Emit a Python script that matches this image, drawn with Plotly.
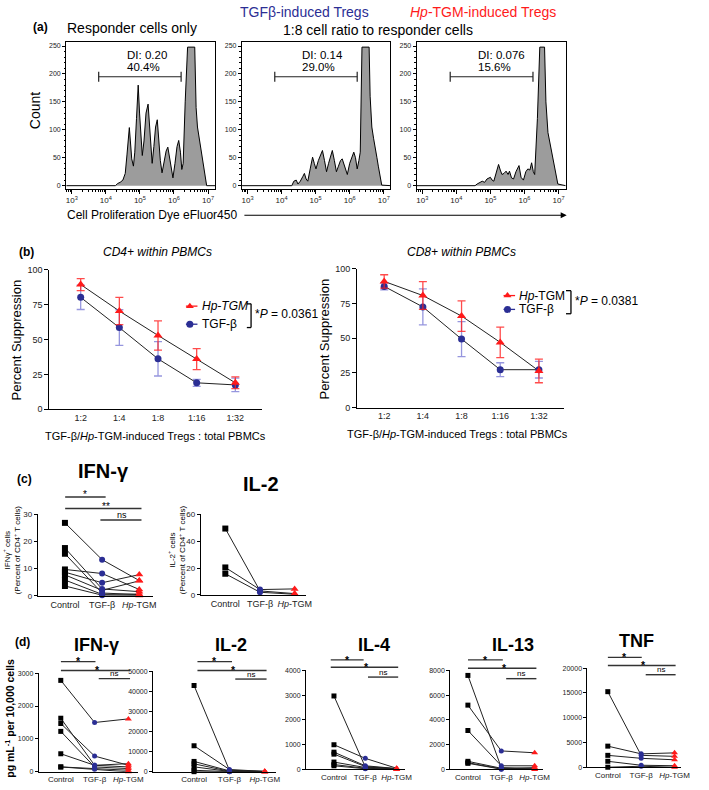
import plotly.graph_objects as go

W, H = 709, 790
FONT = "Liberation Sans, Arial, Helvetica, sans-serif"
BLUE = "#2B2E94"
RED = "#FF1A1A"
FILL = "#9C9C9C"

# ---------------- DATA ----------------
# (a) proliferation histograms: log10(eFluor450 intensity) vs event count
resp_log = [2.84, 4.28, 4.35, 4.42, 4.50, 4.57, 4.62, 4.66, 4.69, 4.72, 4.76, 4.81, 4.85, 4.90,
            4.95, 4.99, 5.03, 5.07, 5.12, 5.18, 5.24, 5.28, 5.32, 5.36, 5.41, 5.46, 5.51, 5.55,
            5.60, 5.65, 5.71, 5.77, 5.82, 5.87, 5.92, 5.97, 6.03, 6.09, 6.14, 6.19, 6.23, 6.27,
            6.33, 6.40, 6.61, 6.65, 6.69, 6.74, 6.79, 6.84, 6.88, 6.93, 6.96, 7.21]
resp_count = [0, 0, 4, 6, 10, 22, 55, 90, 104, 80, 48, 35, 60, 120,
              180, 130, 80, 54, 80, 130, 146, 110, 65, 40, 70, 105, 118, 80,
              45, 23, 40, 62, 69, 50, 25, 14, 40, 70, 81, 60, 29, 40,
              150, 248, 248, 140, 105, 85, 60, 40, 25, 8, 0, 0]
tgfb_log = [2.84, 4.30, 4.36, 4.43, 4.48, 4.55, 4.62, 4.67, 4.72, 4.77, 4.84, 4.91, 4.96, 5.01,
            5.08, 5.14, 5.20, 5.26, 5.32, 5.38, 5.44, 5.49, 5.55, 5.61, 5.67, 5.73, 5.78, 5.84,
            5.93, 6.00, 6.06, 6.12, 6.17, 6.22, 6.27, 6.31, 6.36, 6.57, 6.60, 6.65, 6.70, 6.75,
            6.80, 6.84, 6.89, 6.94, 7.21]
tgfb_count = [0, 0, 8, 10, 3, 8, 16, 22, 12, 8, 30, 51, 40, 30,
              45, 55, 63, 45, 25, 40, 55, 63, 45, 25, 35, 45, 48, 35,
              20, 40, 50, 60, 50, 30, 45, 60, 248, 248, 160, 105, 85, 70,
              50, 35, 15, 1, 0]
hptgm_log = [2.84, 4.55, 4.61, 4.68, 4.76, 4.83, 4.90, 5.00, 5.05, 5.10, 5.17, 5.24, 5.29, 5.34,
             5.40, 5.46, 5.52, 5.56, 5.62, 5.68, 5.75, 5.80, 5.84, 5.90, 5.97, 6.04, 6.10, 6.16,
             6.21, 6.26, 6.30, 6.38, 6.45, 6.59, 6.63, 6.69, 6.75, 6.83, 6.90, 6.98, 7.21]
hptgm_count = [0, 0, 3, 5, 8, 6, 12, 15, 10, 8, 25, 38, 28, 20,
               22, 26, 20, 26, 14, 12, 25, 30, 36, 15, 10, 25, 30, 28,
               41, 25, 20, 120, 248, 248, 150, 95, 75, 50, 25, 3, 0]
gate_resp = [3.79, 6.21]
gate_tgfb = [3.80, 6.22]
gate_hptgm = [3.82, 6.25]
gate_level = 195
di_labels = ["DI: 0.20", "DI: 0.14", "DI: 0.076"]
pct_labels = ["40.4%", "29.0%", "15.6%"]
hist_decades = [3, 4, 5, 6, 7]
hist_yticks = [0, 50, 100, 150, 200, 250]

# (b) percent suppression
ratios = ["1:2", "1:4", "1:8", "1:16", "1:32"]
cd4_hp = [89.5, 70.5, 53.0, 36.0, 19.0]
cd4_hp_err = [4.3, 9.8, 10.5, 7.5, 4.2]
cd4_tgf = [80.3, 58.6, 36.2, 19.0, 17.5]
cd4_tgf_err = [8.7, 12.8, 12.3, 2.5, 4.8]
cd8_hp = [91.0, 80.8, 66.0, 47.0, 26.4]
cd8_hp_err = [4.8, 10.0, 11.0, 11.0, 8.5]
cd8_tgf = [87.4, 72.6, 49.4, 27.3, 27.3]
cd8_tgf_err = [2.5, 13.0, 12.6, 5.0, 6.0]

# (c) percent of CD4+ T cells
groups = ["Control", "TGF-β", "<i>Hp</i>-TGM"]
c_ifng_control = [26.9, 17.6, 15.5, 9.7, 8.7, 7.7, 5.8, 3.6]
c_ifng_tgfb = [13.3, 2.5, 1.0, 8.2, 4.8, 2.0, 0.5, 0.2]
c_ifng_hptgm = [5.6, 1.5, 0.4, 2.3, 7.8, 5.5, 0.6, 0.1]
c_il2_control = [49.5, 20.5, 15.8]
c_il2_tgfb = [3.0, 4.0, 2.0]
c_il2_hptgm = [1.0, 4.5, 0.5]

# (d) pg/mL per 10,000 cells
d_ifng_control = [2780, 1630, 1470, 1230, 550, 150, 150]
d_ifng_tgfb = [1500, 200, 480, 150, 200, 100, 80]
d_ifng_hptgm = [1610, 150, 200, 100, 250, 50, 0]
d_il2_control = [43000, 13000, 5200, 4000, 2500, 800, 100]
d_il2_tgfb = [800, 1200, 500, 300, 200, 100, 50]
d_il2_hptgm = [300, 200, 100, 200, 100, 50, 0]
d_il4_control = [2970, 1000, 700, 620, 300, 200, 150]
d_il4_tgfb = [100, 450, 150, 120, 80, 50, 30]
d_il4_hptgm = [30, 50, 40, 30, 20, 10, 0]
d_il13_control = [7600, 5200, 3150, 660, 550, 500]
d_il13_tgfb = [150, 1500, 300, 100, 50, 30]
d_il13_hptgm = [100, 1350, 300, 50, 0, 150]
d_tnf_control = [15260, 4260, 2400, 1200, 0]
d_tnf_tgfb = [2400, 2700, 1800, 400, 200]
d_tnf_hptgm = [2200, 2900, 1500, 300, 0]

# ---------------- FIGURE ----------------
fig = go.Figure()
layout = {}
annotations = []
shapes = []
PX = 13  # full-figure pixel overlay axis


def xs(i): return 'x' if i == 1 else f'x{i}'
def ys(i): return 'y' if i == 1 else f'y{i}'
def xk(i): return 'xaxis' if i == 1 else f'xaxis{i}'
def yk(i): return 'yaxis' if i == 1 else f'yaxis{i}'


def set_axes(i, xpx, ypx, xr, yr, xopts, yopts):
    layout[xk(i)] = dict(domain=[xpx[0] / W, xpx[1] / W], anchor=ys(i), range=xr,
                         showgrid=False, zeroline=False, fixedrange=True, **xopts)
    layout[yk(i)] = dict(domain=[1 - ypx[1] / H, 1 - ypx[0] / H], anchor=xs(i), range=yr,
                         showgrid=False, zeroline=False, fixedrange=True, **yopts)


def txt(x, y, s, size=12, color='black', xa='center', ya='middle', angle=0):
    annotations.append(dict(x=x, y=y, xref=xs(PX), yref=ys(PX), text=s, showarrow=False,
                            font=dict(size=size, color=color, family=FONT),
                            xanchor=xa, yanchor=ya, textangle=angle, borderpad=0))


def seg(x0, y0, x1, y1, w=1.0, color='black'):
    shapes.append(dict(type='line', xref=xs(PX), yref=ys(PX), x0=x0, y0=y0, x1=x1, y1=y1,
                       line=dict(width=w, color=color)))


# ---- (a) histograms ----
hist_sets = [(resp_log, resp_count, gate_resp), (tgfb_log, tgfb_count, gate_tgfb),
             (hptgm_log, hptgm_count, gate_hptgm)]
hist_px = [(67, 218), (245, 395), (422, 573)]
dec_px = [72.7, 250.7, 427.7]
minor_vals = [k * 10 ** e for e in range(2, 7) for k in range(2, 10)]
for n, ((lg, cnt, gate), (x0, x1), d3) in enumerate(zip(hist_sets, hist_px, dec_px)):
    i = n + 1
    xr = [3 + (x0 - d3) / 34.5, 3 + (x1 - d3) / 34.5]
    set_axes(i, (x0, x1), (37, 186), xr, [-5.3, 258],
             dict(type='log', tickmode='array', tickvals=[10 ** d for d in hist_decades],
                  ticktext=[f"10<sup>{d}</sup>" for d in hist_decades],
                  ticks='outside', ticklen=4, tickcolor='black', tickfont=dict(size=8, color='#222'),
                  showline=True, mirror=True, linecolor='black', linewidth=1,
                  minor=dict(tickmode='array', tickvals=minor_vals, ticks='outside', ticklen=2,
                             tickcolor='black')),
             dict(tickmode='array', tickvals=hist_yticks, ticks='outside', ticklen=3, tickcolor='black',
                  tickfont=dict(size=7, color='#222'), showline=True, mirror=True, linecolor='black',
                  linewidth=1, minor=dict(dtick=10, ticks='outside', ticklen=1.5, tickcolor='black')))
    fig.add_trace(go.Scatter(x=[10 ** v for v in lg], y=cnt, mode='lines', fill='tozeroy',
                             fillcolor=FILL, line=dict(color='black', width=1),
                             xaxis=xs(i), yaxis=ys(i), hoverinfo='skip'))
    fig.add_trace(go.Scatter(x=[10 ** g for g in gate], y=[gate_level, gate_level], mode='lines+markers',
                             line=dict(color='#222', width=1.2),
                             marker=dict(symbol='line-ns-open', size=7, line=dict(width=1.2, color='#222')),
                             xaxis=xs(i), yaxis=ys(i), hoverinfo='skip'))

for xl, di, pc in zip([127.7, 305, 483.3], di_labels, pct_labels):
    txt(xl, 50.7, di, 11.5, xa='left')
    txt(xl, 62.7, pc, 11.5, xa='left')

txt(41, 22, "<b>(a)</b>", 12)
txt(67, 23, "Responder cells only", 14, xa='left')
txt(308, 7.5, "TGFβ-induced Tregs", 14, color=BLUE)
txt(488.7, 7.5, "<i>Hp</i>-TGM-induced Tregs", 14, color=RED)
txt(383, 25, "1:8 cell ratio to responder cells", 14)
txt(35, 107, "Count", 14, angle=-90)
txt(67, 213, "Cell Proliferation Dye eFluor450", 12, xa='left')
annotations.append(dict(x=574, y=213, ax=246, ay=213, xref=xs(PX), yref=ys(PX), axref=xs(PX),
                        ayref=ys(PX), text='', showarrow=True, arrowhead=2, arrowsize=1.1,
                        arrowwidth=1.1, arrowcolor='black'))

# ---- (b) suppression ----
bpanels = [(4, (50, 265), (268.3, 409.5), [-0.81, 4.68], cd4_hp, cd4_hp_err, cd4_tgf, cd4_tgf_err),
           (5, (361.7, 571.7), (267.3, 407.7), [-0.70, 4.66], cd8_hp, cd8_hp_err, cd8_tgf, cd8_tgf_err)]
for i, xp, yp, xr, hp, hpe, tg, tge in bpanels:
    set_axes(i, xp, yp, xr, [0, 100],
             dict(tickmode='array', tickvals=list(range(5)), ticktext=ratios, ticks='',
                  tickfont=dict(size=9, color='#222'), showline=True, linecolor='black', linewidth=1),
             dict(tickmode='array', tickvals=[0, 25, 50, 75, 100], ticks='outside', ticklen=4,
                  tickcolor='black', tickfont=dict(size=9, color='#222'), showline=True,
                  linecolor='black', linewidth=1))
    xv = list(range(5))
    for vals in (tg, hp):
        fig.add_trace(go.Scatter(x=xv, y=vals, mode='lines', line=dict(color='#222', width=1),
                                 xaxis=xs(i), yaxis=ys(i), hoverinfo='skip', cliponaxis=False))
    fig.add_trace(go.Scatter(x=xv, y=tg, mode='markers',
                             marker=dict(symbol='circle', size=7, color=BLUE),
                             error_y=dict(type='data', array=tge, visible=True,
                                          color='rgba(80,80,200,0.6)', thickness=1.3, width=4),
                             xaxis=xs(i), yaxis=ys(i), hoverinfo='skip', cliponaxis=False))
    fig.add_trace(go.Scatter(x=xv, y=hp, mode='markers',
                             marker=dict(symbol='triangle-up', size=8, color=RED),
                             error_y=dict(type='data', array=hpe, visible=True,
                                          color='rgba(255,30,30,0.8)', thickness=1.3, width=4),
                             xaxis=xs(i), yaxis=ys(i), hoverinfo='skip', cliponaxis=False))

txt(27, 250, "<b>(b)</b>", 12)
txt(160, 250, "<i>CD4+ within PBMCs</i>", 12)
txt(467, 250, "<i>CD8+ within PBMCs</i>", 12)
txt(17, 339, "Percent Suppression", 13, angle=-90)
txt(329, 338, "Percent Suppression", 13, angle=-90)
txt(157, 436.7, "TGF-β/<i>Hp</i>-TGM-induced Tregs : total PBMCs", 11)
txt(463, 435, "TGF-β/<i>Hp</i>-TGM-induced Tregs : total PBMCs", 11)

# legend glyphs (pixel overlay)
legend_items = [((188.3, 200, 192.3), 305, RED, 'triangle-up', "<i>Hp-TGM</i>", 203.3),
                ((188.3, 200, 192.3), 323.3, BLUE, 'circle', "TGF-β", 203.3),
                ((510, 521.7, 514), 294.3, RED, 'triangle-up', "<i>Hp</i>-TGM", 525),
                ((510, 521.7, 514), 308.3, BLUE, 'circle', "TGF-β", 525)]
for (lx0, lx1, mx), ly, col, sym, label, tx in legend_items:
    fig.add_trace(go.Scatter(x=[lx0, lx1], y=[ly, ly], mode='lines', line=dict(color=col, width=1.3),
                             xaxis=xs(PX), yaxis=ys(PX), hoverinfo='skip'))
    fig.add_trace(go.Scatter(x=[mx], y=[ly], mode='markers', marker=dict(symbol=sym, size=7, color=col),
                             xaxis=xs(PX), yaxis=ys(PX), hoverinfo='skip'))
    txt(tx, ly, label, 12, xa='left')
seg(254.3, 302.7, 254.3, 326.7, 1.3); seg(250, 302.7, 254.3, 302.7, 1.3); seg(250, 326.7, 254.3, 326.7, 1.3)
seg(578.3, 289.3, 578.3, 312.7, 1.3); seg(573.3, 289.3, 578.3, 289.3, 1.3); seg(573.3, 312.7, 578.3, 312.7, 1.3)
txt(257.3, 313.3, "*<i>P</i> = 0.0361", 12, xa='left')
txt(581.7, 300, "*<i>P</i> = 0.0381", 12, xa='left')


# ---- paired panels (c) and (d) ----
def paired(i, xp, yp, xr, yr, ytv, ctrl, tgf, hp, xfont, yfont, msz):
    set_axes(i, xp, yp, xr, yr,
             dict(tickmode='array', tickvals=[0, 1, 2], ticktext=groups, ticks='',
                  tickfont=dict(size=xfont, color='#222'), showline=True, linecolor='black', linewidth=1),
             dict(tickmode='array', tickvals=ytv, ticktext=[str(v) for v in ytv], ticks='outside',
                  ticklen=3, tickcolor='black', tickfont=dict(size=yfont, color='#222'),
                  showline=True, linecolor='black', linewidth=1))
    for a, b, c in zip(ctrl, tgf, hp):
        fig.add_trace(go.Scatter(x=[0, 1, 2], y=[a, b, c], mode='lines', line=dict(color='#222', width=1),
                                 xaxis=xs(i), yaxis=ys(i), hoverinfo='skip', cliponaxis=False))
    for xv, vals, sym, col, s in ((0, ctrl, 'square', 'black', msz), (1, tgf, 'circle', BLUE, msz),
                                  (2, hp, 'triangle-up', RED, msz + 1)):
        fig.add_trace(go.Scatter(x=[xv] * len(vals), y=vals, mode='markers',
                                 marker=dict(symbol=sym, size=s, color=col),
                                 xaxis=xs(i), yaxis=ys(i), hoverinfo='skip', cliponaxis=False))


paired(6, (38.3, 155), (516, 598.3), [-0.73, 2.37], [0, 30], [0, 10, 20, 30],
       c_ifng_control, c_ifng_tgfb, c_ifng_hptgm, 9, 8, 6)
paired(7, (203.3, 310), (516, 597.5), [-0.71, 2.33], [0, 60], [0, 20, 40, 60],
       c_il2_control, c_il2_tgfb, c_il2_hptgm, 9, 8, 6)
paired(8, (39.3, 140), (676.7, 776.7), [-0.65, 2.29], [0, 3000], [0, 1000, 2000, 3000],
       d_ifng_control, d_ifng_tgfb, d_ifng_hptgm, 8, 7, 5)
paired(9, (155, 280), (675, 776.7), [-1.16, 2.33], [0, 50000], [0, 10000, 20000, 30000, 40000, 50000],
       d_il2_control, d_il2_tgfb, d_il2_hptgm, 8, 7, 5)
paired(10, (310, 410), (674, 774.3), [-0.89, 2.26], [0, 4000], [0, 1000, 2000, 3000, 4000],
       d_il4_control, d_il4_tgfb, d_il4_hptgm, 8, 7, 5)
paired(11, (456, 550), (674, 774.3), [-0.53, 2.25], [0, 8000], [0, 2000, 4000, 6000, 8000],
       d_il13_control, d_il13_tgfb, d_il13_hptgm, 8, 7, 5)
paired(12, (595, 690), (671.7, 772), [-0.61, 2.20], [0, 20000], [0, 5000, 10000, 15000, 20000],
       d_tnf_control, d_tnf_tgfb, d_tnf_hptgm, 8, 7, 5)

txt(25, 480, "<b>(c)</b>", 12)
txt(105, 472, "<b>IFN-γ</b>", 20)
txt(264.5, 485, "<b>IL-2</b>", 20)
txt(11.5, 552, "IFNγ<sup>+</sup> cells<br>(Percent of CD4<sup>+</sup> T cells)", 8, angle=-90)
txt(178.5, 552, "IL-2<sup>+</sup> cells<br>(Percent of CD4<sup>+</sup> T cells)", 8, angle=-90)
SIG = '#333'
seg(66, 498.3, 107, 498.3, 1.5, SIG); txt(86, 496, "*", 10)
seg(66, 510, 143.3, 510, 1.5, SIG); txt(107.3, 507.5, "**", 10)
seg(101.7, 521.7, 143.3, 521.7, 1.5, SIG); txt(124, 516.5, "ns", 9)

txt(23, 645, "<b>(d)</b>", 12)
for cx, cy, name in [(98, 648.5, "IFN-γ"), (234, 648.5, "IL-2"), (379, 648.5, "IL-4"),
                     (520, 648.5, "IL-13"), (645, 644.5, "TNF")]:
    txt(cx, cy, f"<b>{name}</b>", 18)
txt(10, 722, "<b>pg mL<sup>-1</sup> per 10,000 cells</b>", 10.5, angle=-90)
dsig = [((61.7, 96.7, 665), (61.7, 131.7, 674), (100, 131.7, 682.3)),
        ((200, 235, 665), (200, 270, 674), (238.3, 270, 682.7)),
        ((335, 368.3, 663.3), (335, 403.3, 670.7), (372.7, 403.3, 680.7)),
        ((474, 509.3, 663.3), (474, 543.3, 671.7), (512.7, 543.3, 682.3)),
        ((615.7, 650, 660.7), (615.7, 684.3, 669), (654, 684.3, 678.3))]
for b1, b2, b3 in dsig:
    seg(b1[0], b1[2], b1[1], b1[2], 1.4, SIG); txt((b1[0] + b1[1]) / 2, b1[2] - 0.2, "<b>*</b>", 10.5)
    seg(b2[0], b2[2], b2[1], b2[2], 1.4, SIG); txt((b2[0] + b2[1]) / 2 + 2, b2[2] - 0.2, "<b>*</b>", 10.5)
    seg(b3[0], b3[2], b3[1], b3[2], 1.4, SIG); txt((b3[0] + b3[1]) / 2, b3[2] - 5, "ns", 8)

# pixel overlay axes
layout[xk(PX)] = dict(domain=[0, 1], range=[0, W], visible=False, fixedrange=True, anchor=ys(PX))
layout[yk(PX)] = dict(domain=[0, 1], range=[H, 0], visible=False, fixedrange=True, anchor=xs(PX))

fig.update_layout(width=W, height=H, margin=dict(l=0, r=0, t=0, b=0), showlegend=False,
                  paper_bgcolor='white', plot_bgcolor='rgba(0,0,0,0)',
                  font=dict(family=FONT, color='black'), annotations=annotations, shapes=shapes,
                  **layout)
fig.write_html("out.html", config={'displayModeBar': False},
               post_script="document.body.style.margin='0';document.body.style.padding='0';")
